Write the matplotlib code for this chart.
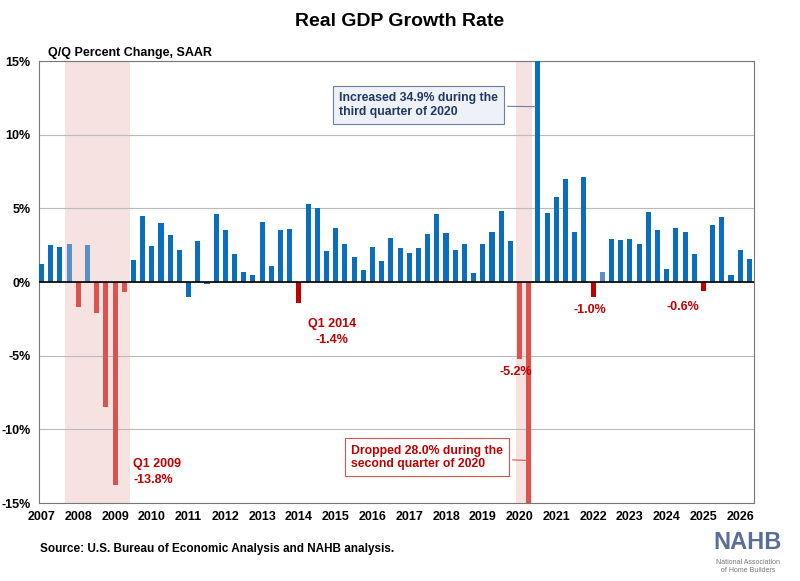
import matplotlib.pyplot as plt
import numpy as np

plt.rcParams['font.family'] = ['Liberation Sans', 'DejaVu Sans']

years = list(range(2007, 2027))
growth = [1.2, 2.5, 2.4, 2.6, -1.7, 2.5, -2.1, -8.5, -13.8, -0.7,
          1.5, 4.5, 2.45, 4.0, 3.2, 2.2, -1.0, 2.8, -0.1, 4.6,
          3.5, 1.9, 0.7, 0.5, 4.1, 1.1, 3.5, 3.6, -1.4, 5.3,
          5.0, 2.1, 3.7, 2.6, 1.7, 0.8, 2.4, 1.4, 3.0, 2.3,
          2.0, 2.3, 3.25, 4.6, 3.3, 2.2, 2.55, 0.6, 2.6, 3.4,
          4.8, 2.8, -5.2, -28.0, 34.9, 4.7, 5.8, 7.0, 3.4, 7.1,
          -1.0, 0.7, 2.95, 2.85, 2.95, 2.6, 4.75, 3.5, 0.9, 3.65,
          3.4, 1.9, -0.6, 3.9, 4.4, 0.5, 2.15, 1.55]
light_idx = [3, 5, 61]
recession_neg = [4, 6, 7, 8, 9, 52, 53]
recessions = [(2.6, 9.6), (51.6, 53.3)]

x = np.arange(len(growth))
colors = []
for i, v in enumerate(growth):
    if i in light_idx:
        colors.append('#5b8fc7')
    elif v < 0 and i in recession_neg:
        colors.append('#d9534f')
    elif v < 0 and i != 16 and i != 18:
        colors.append('#c00000')
    else:
        colors.append('#0a6ebd')

fig = plt.figure(figsize=(8, 5.81), dpi=100)
ax = fig.add_axes([0.049, 0.134, 0.8935, 0.761])
for a, b in recessions:
    ax.axvspan(a, b, color='#f4d6d6', alpha=0.7, lw=0, zorder=0)
ax.bar(x, growth, width=0.55, color=colors, zorder=3)
ax.axhline(0, color='black', lw=1.2, zorder=4)
ax.set_ylim(-15, 15)
ax.set_xlim(-0.25, 77.5)
ax.set_yticks(range(-15, 16, 5))
ax.set_yticklabels([f'{v}%' for v in range(-15, 16, 5)], fontsize=9, fontweight='bold')
ax.set_xticks(np.arange(len(years)) * 4)
ax.set_xticklabels(years, fontsize=9, fontweight='bold')
ax.tick_params(length=0, pad=6)
ax.grid(axis='y', color='#bbbbbb', lw=0.8, zorder=1)
for s in ax.spines.values():
    s.set_color('#777777')

fig.text(0.5, 0.955, 'Real GDP Growth Rate', ha='center', fontsize=14, fontweight='bold')
fig.text(0.06, 0.903, 'Q/Q Percent Change, SAAR', fontsize=9, fontweight='bold')

red = '#c00000'
ax.text(10.0, -12.9, 'Q1 2009\n-13.8%', color=red, fontsize=9, fontweight='bold', va='center', linespacing=1.4)
ax.text(31.6, -3.4, 'Q1 2014\n-1.4%', color=red, fontsize=9, fontweight='bold', va='center', ha='center',
        multialignment='center', linespacing=1.4)
ax.text(51.6, -6.3, '-5.2%', color=red, fontsize=9, fontweight='bold', ha='center')
ax.text(59.6, -2.1, '-1.0%', color=red, fontsize=9, fontweight='bold', ha='center')
ax.text(69.8, -1.9, '-0.6%', color=red, fontsize=9, fontweight='bold', ha='center')

ax.annotate('Increased 34.9% during the\nthird quarter of 2020', xy=(54, 11.9), xytext=(32.4, 12.0),
            fontsize=8.8, fontweight='bold', color='#1f3864', va='center',
            bbox=dict(boxstyle='square,pad=0.5', fc='#eef2f8', ec='#6f7f9f', lw=0.8),
            arrowprops=dict(arrowstyle='-', color='#6f7f9f', lw=0.8), zorder=6)
ax.annotate('Dropped 28.0% during the\nsecond quarter of 2020', xy=(53, -12.1), xytext=(33.7, -11.9),
            fontsize=8.8, fontweight='bold', color=red, va='center',
            bbox=dict(boxstyle='square,pad=0.5', fc='white', ec='#d9534f', lw=0.8),
            arrowprops=dict(arrowstyle='-', color='#d9534f', lw=0.8), zorder=6)

fig.text(0.05, 0.05, 'Source: U.S. Bureau of Economic Analysis and NAHB analysis.', fontsize=8.5, fontweight='bold')
fig.text(0.935, 0.055, 'NAHB', ha='center', fontsize=17, fontweight='bold', color='#5a6e9a')
fig.text(0.935, 0.03, 'National Association', ha='center', fontsize=5, color='#777777')
fig.text(0.935, 0.015, 'of Home Builders', ha='center', fontsize=5, color='#777777')

fig.savefig('out.png', dpi=100)
